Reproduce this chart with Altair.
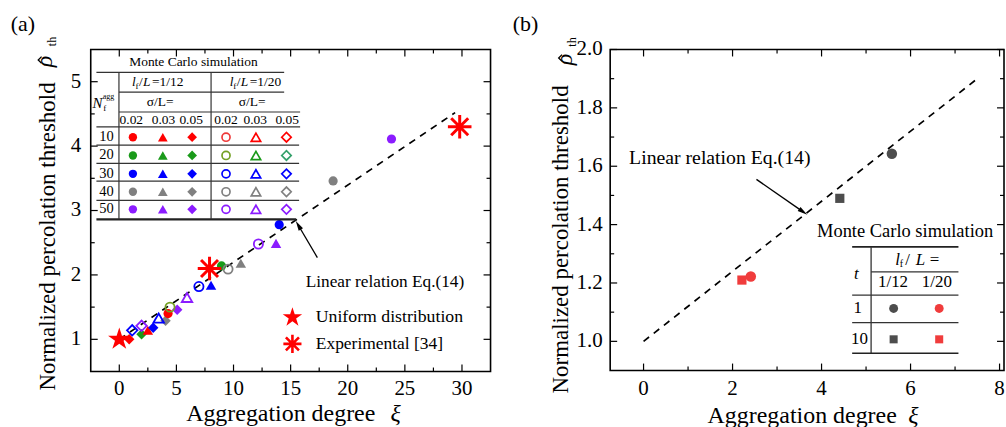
import altair as alt
import pandas as pd

FONT = "Liberation Serif"

# ---------------- panel (a) data ----------------
a_xi = [0.87, 1.13, 1.95, 1.95, 2.50, 2.97, 3.45, 4.05, 4.27, 4.44, 5.07, 5.93,
        6.97, 8.03, 8.95, 9.52, 10.64, 12.18, 13.72, 14.00, 18.72, 23.83]
a_rho = [1.00, 1.14, 1.08, 1.21, 1.14, 1.18, 1.33, 1.29, 1.40, 1.50, 1.46, 1.65,
         1.82, 1.84, 2.14, 2.09, 2.18, 2.48, 2.49, 2.78, 3.46, 4.11]
a_nagg = [10, 30, 20, 50, 10, 30, 30, 40, 10, 20, 50, 50,
          30, 30, 20, 40, 40, 50, 50, 30, 40, 50]
a_lf = ["1/12", "1/20", "1/12", "1/20", "1/12", "1/12", "1/20", "1/12", "1/12", "1/20", "1/12", "1/20",
        "1/20", "1/12", "1/12", "1/20", "1/12", "1/20", "1/12", "1/12", "1/12", "1/12"]
a_sigma = [0.05, 0.05, 0.05, 0.05, 0.03, 0.05, 0.03, 0.05, 0.02, 0.02, 0.05, 0.03,
           0.02, 0.03, 0.02, 0.02, 0.03, 0.02, 0.03, 0.02, 0.02, 0.02]

uniform_xi = [0.0]
uniform_rho = [1.0]
exp_xi = [7.9, 29.8]
exp_rho = [2.10, 4.30]
line_a_xi = [0.0, 29.4]
line_a_rho = [1.0, 4.52]

# ---------------- panel (b) data ----------------
b_xi = [5.58, 4.41, 2.41, 2.21]
b_rho = [1.643, 1.49, 1.222, 1.21]
b_t = [1, 10, 1, 10]
b_lf = ["1/12", "1/12", "1/20", "1/20"]
line_b_xi = [0.0, 7.5]
line_b_rho = [1.0, 1.90]

# ---------------- tick labels ----------------
a_xticks = [0, 5, 10, 15, 20, 25, 30]
a_xminor = [2.5, 7.5, 12.5, 17.5, 22.5, 27.5]
a_yticks = [1, 2, 3, 4, 5]
a_yminor = [1.5, 2.5, 3.5, 4.5]
b_xticks = [0, 2, 4, 6, 8]
b_xminor = [1, 3, 5, 7]
b_yticks = [1.0, 1.2, 1.4, 1.6, 1.8, 2.0]
b_yminor = [1.1, 1.3, 1.5, 1.7, 1.9]

# legend categories
N_LEVELS = [10, 20, 30, 40, 50]
SIGMAS = [0.02, 0.03, 0.05]
LF_LEVELS = ["1/12", "1/20"]

SHAPES = {0.02: "circle", 0.03: "triangle-up", 0.05: "diamond"}
SIZES = {"circle": 85, "triangle-up": 110, "diamond": 110}
FILLED = {10: "#ff0000", 20: "#1a9a1a", 30: "#0000ff", 40: "#808080", 50: "#8b1cff"}
OPEN = {10: ["#ee3a3a", "#ff0000", "#ff0000"],
        20: ["#74a024", "#1a9a1a", "#33a06a"],
        30: ["#0000ff"] * 3, 40: ["#808080"] * 3, 50: ["#8b1cff"] * 3}

STAR = ("M0,-1L0.2245,-0.309L0.951,-0.309L0.363,0.118L0.588,0.809L0,0.382"
        "L-0.588,0.809L-0.363,0.118L-0.951,-0.309L-0.2245,-0.309Z")
AST = "M0,-1L0,1M-1,0L1,0M-0.72,-0.72L0.72,0.72M-0.72,0.72L0.72,-0.72"
HEAD = "M0,-1L0.5,1L-0.5,1Z"
HAT = "M-1,0.5L0,-0.5L1,0.5"

ONE = pd.DataFrame({"k": [0]})
TICK_FS = 21


def txt(text, x, y, size, align="center", style="normal", angle=0, baseline="middle"):
    return alt.Chart(ONE).mark_text(
        text=text, font=FONT, fontSize=size, fontStyle=style, align=align,
        baseline=baseline, angle=angle, color="black"
    ).encode(x=alt.value(x), y=alt.value(y))


def hline(x1, x2, y, w=1.2, color="#333333"):
    return alt.Chart(ONE).mark_rule(color=color, strokeWidth=w).encode(
        x=alt.value(x1), x2=alt.value(x2), y=alt.value(y))


def seg(x1, y1, x2, y2, w=1.3, color="black"):
    return alt.Chart(ONE).mark_rule(color=color, strokeWidth=w).encode(
        x=alt.value(x1), x2=alt.value(x2), y=alt.value(y1), y2=alt.value(y2))


def sym(x, y, shape, color, size, filled=True, angle=0, sw=1.6):
    return alt.Chart(ONE).mark_point(
        shape=shape, filled=filled, color=color, size=size, strokeWidth=sw,
        opacity=1, angle=angle
    ).encode(x=alt.value(x), y=alt.value(y))


def frame_ticks(W, H, xs, ys, xmaj, xmin, ymaj, ymin):
    layers = []
    for vals, L in ((xmaj, 7), (xmin, 4)):
        d = pd.DataFrame({"v": vals})
        for y1, y2 in ((H, H - L), (0, L)):
            layers.append(alt.Chart(d).mark_rule(color="black", strokeWidth=1.2).encode(
                x=alt.X("v:Q", scale=xs, axis=None), y=alt.value(y1), y2=alt.value(y2)))
    for vals, L in ((ymaj, 7), (ymin, 4)):
        d = pd.DataFrame({"v": vals})
        for x1, x2 in ((0, L), (W, W - L)):
            layers.append(alt.Chart(d).mark_rule(color="black", strokeWidth=1.2).encode(
                y=alt.Y("v:Q", scale=ys, axis=None), x=alt.value(x1), x2=alt.value(x2)))
    return layers


def tick_labels(xs, ys, xvals, yvals, xfmt, yfmt, xlab_y, ylab_x):
    lx = alt.Chart(pd.DataFrame({"v": xvals})).mark_text(
        font=FONT, fontSize=TICK_FS, baseline="alphabetic", align="center", color="black"
    ).encode(x=alt.X("v:Q", scale=xs, axis=None), y=alt.value(xlab_y),
             text=alt.Text("v:Q", format=xfmt))
    ly = alt.Chart(pd.DataFrame({"v": yvals})).mark_text(
        font=FONT, fontSize=TICK_FS, baseline="middle", align="right", color="black"
    ).encode(y=alt.Y("v:Q", scale=ys, axis=None), x=alt.value(ylab_x),
             text=alt.Text("v:Q", format=yfmt))
    return [lx, ly]


def y_title(base, start, rho_base, rho_y, hat_x, th_base, th_y):
    return [txt("Normalized percolation threshold", base, start, 23, align="left",
                angle=270, baseline="alphabetic"),
            txt("ρ", rho_base, rho_y, 24, style="italic", angle=270, baseline="alphabetic"),
            sym(hat_x, rho_y - 1.5, HAT, "black", 45, False, angle=270, sw=1.3),
            txt("th", th_base, th_y, 12, angle=270, baseline="alphabetic")]


# =============== panel (a) ===============
WA, HA = 401, 323
xsa = alt.Scale(domain=[-2.5, 32.5], nice=False, zero=False)
ysa = alt.Scale(domain=[0.5, 5.5], nice=False, zero=False)

pts = pd.DataFrame({"xi": a_xi, "rho": a_rho, "n": a_nagg, "lf": a_lf, "sigma": a_sigma})
pts["shape"] = pts["sigma"].map(SHAPES)
pts["size"] = pts["shape"].map(SIZES)
pts["col"] = [FILLED[n] if lf == "1/12" else OPEN[n][SIGMAS.index(s)]
              for n, lf, s in zip(pts["n"], pts["lf"], pts["sigma"])]

line_a = alt.Chart(pd.DataFrame({"xi": line_a_xi, "rho": line_a_rho})).mark_line(
    color="black", strokeWidth=1.7, strokeDash=[7, 6]
).encode(x=alt.X("xi:Q", scale=xsa, axis=None), y=alt.Y("rho:Q", scale=ysa, axis=None))

filled_a = alt.Chart(pts[pts["lf"] == "1/12"]).mark_point(filled=True, opacity=1).encode(
    x=alt.X("xi:Q", scale=xsa, axis=None), y=alt.Y("rho:Q", scale=ysa, axis=None),
    shape=alt.Shape("shape:N", scale=None), color=alt.Color("col:N", scale=None),
    size=alt.Size("size:Q", scale=None))
open_a = alt.Chart(pts[pts["lf"] == "1/20"]).mark_point(filled=False, opacity=1, strokeWidth=1.8).encode(
    x=alt.X("xi:Q", scale=xsa, axis=None), y=alt.Y("rho:Q", scale=ysa, axis=None),
    shape=alt.Shape("shape:N", scale=None), color=alt.Color("col:N", scale=None),
    size=alt.Size("size:Q", scale=None))

star_a = alt.Chart(pd.DataFrame({"xi": uniform_xi, "rho": uniform_rho})).mark_point(
    shape=STAR, filled=True, color="#ff0000", size=560, opacity=1
).encode(x=alt.X("xi:Q", scale=xsa, axis=None), y=alt.Y("rho:Q", scale=ysa, axis=None))
exp_a = alt.Chart(pd.DataFrame({"xi": exp_xi, "rho": exp_rho})).mark_point(
    shape=AST, filled=False, color="#ff0000", size=560, opacity=1, strokeWidth=3
).encode(x=alt.X("xi:Q", scale=xsa, axis=None), y=alt.Y("rho:Q", scale=ysa, axis=None))

la = [line_a, filled_a, open_a, star_a, exp_a]
la += frame_ticks(WA, HA, xsa, ysa, a_xticks, a_xminor, a_yticks, a_yminor)
la += tick_labels(xsa, ysa, a_xticks, a_yticks, "d", "d", 346.5, -9.5)

# table inset (a)
TF = 13.5
col_x = {("1/12", 0.02): 42.3, ("1/12", 0.03): 72.3, ("1/12", 0.05): 101.7,
         ("1/20", 0.02): 135.7, ("1/20", 0.03): 165.7, ("1/20", 0.05): 196.3}
row_y = dict(zip(N_LEVELS, [88, 106.3, 124.7, 142.7, 160.3]))
la += [hline(5.7, 194, 23), hline(28.3, 194, 42.7), hline(28.3, 210, 62.7),
       hline(5.7, 210, 77.7)]
for yy in [96, 114.3, 132, 151.3]:
    la.append(hline(5.7, 209, yy))
la.append(hline(5.7, 206, 170.3, w=2.2, color="#222222"))
la += [seg(28.3, 23, 28.3, 170.3, 1.2, "#333333"), seg(120.7, 23, 120.7, 170.3, 1.2, "#333333")]
la.append(txt("Monte Carlo simulation", 103, 13, TF))
for dx, lab in ((0, "1/12"), (98, "1/20")):
    la += [txt("l", 41.5 + dx, 32.7, TF, align="left", style="italic"),
           txt("f", 45 + dx, 36.5, 9, align="left"),
           txt("/", 48.5 + dx, 32.7, TF, align="left"),
           txt("L", 52.5 + dx, 32.7, TF, align="left", style="italic"),
           txt("=" + lab, 61.5 + dx, 32.7, TF, align="left")]
la += [txt("σ/L=", 69.7, 53, TF), txt("σ/L=", 162, 53, TF)]
for cx, s in zip([40.7, 73, 100.7, 135.7, 165, 197], SIGMAS * 2):
    la.append(txt(f"{s:.2f}", cx, 70.3, TF))
la += [txt("N", 1.7, 53.7, 15, align="left", style="italic"),
       txt("agg", 12, 48, 8, align="left"),
       txt("f", 12.5, 58.5, 9, align="left")]
for n in N_LEVELS:
    la.append(txt(str(n), 15.7, row_y[n], 14.5))
    for lf in LF_LEVELS:
        for i, s in enumerate(SIGMAS):
            shp = SHAPES[s]
            if lf == "1/12":
                la.append(sym(col_x[(lf, s)], row_y[n], shp, FILLED[n], SIZES[shp] - 15, True))
            else:
                la.append(sym(col_x[(lf, s)], row_y[n], shp, OPEN[n][i], SIZES[shp] - 20, False, sw=1.7))

# annotations (a)
la += [txt("Linear relation Eq.(14)", 215.7, 233.7, 17.3, align="left"),
       seg(227.3, 208.7, 208.2, 176.3, 1.3),
       sym(208.2, 176.3, HEAD, "black", 100, True, angle=329.5),
       sym(202.3, 268.7, STAR, "#ff0000", 420, True),
       txt("Uniform distribution", 225.7, 268.7, 17.8, align="left"),
       sym(202.3, 295.3, AST, "#ff0000", 330, False, sw=2.6),
       txt("Experimental [34]", 225.7, 295.3, 17.5, align="left")]

# titles (a)
la += [txt("(a)", -68, -26, 22)]
la += y_title(-36, 342, -39, 12, -51, -35, -8)
la += [txt("Aggregation degree", 95.7, 372.7, 24, align="left", baseline="alphabetic"),
       txt("ξ", 305.7, 372.7, 24, style="italic", baseline="alphabetic")]

panel_a = alt.layer(*la).properties(width=WA, height=HA)

# =============== panel (b) ===============
WB, HB = 395, 322
xsb = alt.Scale(domain=[-0.75, 8.1], nice=False, zero=False)
ysb = alt.Scale(domain=[0.9, 2.0], nice=False, zero=False)

line_b = alt.Chart(pd.DataFrame({"xi": line_b_xi, "rho": line_b_rho})).mark_line(
    color="black", strokeWidth=1.7, strokeDash=[7, 6]
).encode(x=alt.X("xi:Q", scale=xsb, axis=None), y=alt.Y("rho:Q", scale=ysb, axis=None))

B_COLORS = {"1/12": "#4d4d4d", "1/20": "#f03c3c"}
B_SHAPES = {1: "circle", 10: "square"}
B_SIZES = {1: 110, 10: 85}
pb = pd.DataFrame({"xi": b_xi, "rho": b_rho, "t": b_t, "lf": b_lf})
pb["col"] = pb["lf"].map(B_COLORS)
pb["shape"] = pb["t"].map(B_SHAPES)
pb["size"] = pb["t"].map(B_SIZES)
pts_b = alt.Chart(pb).mark_point(filled=True, opacity=1).encode(
    x=alt.X("xi:Q", scale=xsb, axis=None), y=alt.Y("rho:Q", scale=ysb, axis=None),
    shape=alt.Shape("shape:N", scale=None), color=alt.Color("col:N", scale=None),
    size=alt.Size("size:Q", scale=None))

lb = [line_b, pts_b]
lb += frame_ticks(WB, HB, xsb, ysb, b_xticks, b_xminor, b_yticks, b_yminor)
lb += tick_labels(xsb, ysb, b_xticks, b_yticks, "d", ".1f", 346.5, -7.5)

# table inset (b)
lb += [txt("Monte Carlo simulation", 295.8, 181.7, 18.5),
       hline(242.7, 349.3, 198, w=1.6, color="#222222"),
       seg(261.7, 198, 261.7, 304.7, 1.3, "#333333"),
       hline(261.7, 349.3, 223, w=1.3),
       hline(242.7, 349.3, 246.3, w=1.3),
       hline(242.7, 349.3, 274, w=1.3),
       hline(242.7, 349.3, 304.7, w=1.6, color="#222222"),
       txt("l", 286, 211.3, 17, align="left", style="italic"),
       txt("f", 290.5, 215.5, 10, align="left"),
       txt("/", 296, 211.3, 17, align="left"),
       txt("L", 306.5, 211.3, 17, align="left", style="italic"),
       txt("=", 320.5, 211.3, 17, align="left"),
       txt("t", 247, 224.7, 17, style="italic"),
       txt("1/12", 283.7, 233.7, 17),
       txt("1/20", 327.7, 233.7, 17)]
for t, yy in zip([1, 10], [259.7, 290.7]):
    lb.append(txt(str(t), 248.3 if t == 1 else 250, yy, 17))
    for lf, xx in zip(LF_LEVELS, [284.3, 330]):
        lb.append(sym(xx, yy, B_SHAPES[t], B_COLORS[lf], 80 if t == 1 else 65, True))

lb += [txt("Linear relation Eq.(14)", 19, 109, 19.8, align="left"),
       seg(146.7, 130.3, 193.6, 162.85, 1.3),
       sym(193.6, 162.85, HEAD, "black", 100, True, angle=124.8)]

lb += [txt("(b)", -85, -26, 22)]
lb += y_title(-42, 345, -38, 10, -50, -34, -7.5)
lb += [txt("Aggregation degree", 97.7, 374.7, 24, align="left", baseline="alphabetic"),
       txt("ξ", 304, 374.7, 24, style="italic", baseline="alphabetic")]

panel_b = alt.layer(*lb).properties(width=WB, height=HB)

chart = alt.hconcat(panel_a, panel_b, spacing=19).properties(
    padding={"left": 9, "top": 11, "right": 0, "bottom": 0},
    background="white"
).configure_view(stroke="black", strokeWidth=1.6)

chart.save("out.html", embed_options={"renderer": "svg", "actions": False})
